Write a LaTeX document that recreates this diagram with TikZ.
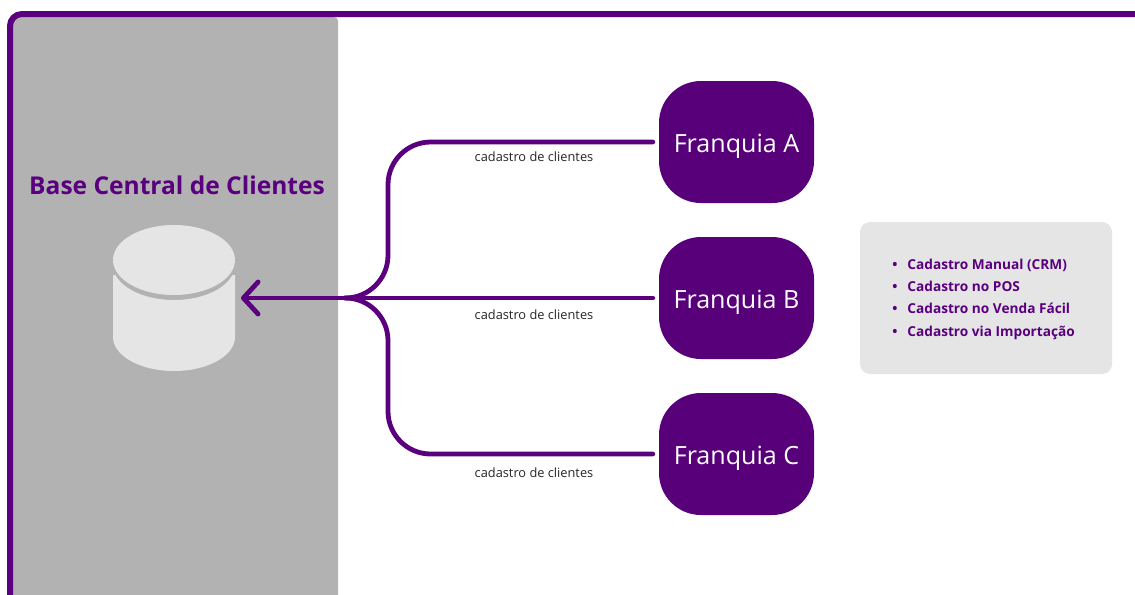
\documentclass[tikz,border=0pt]{standalone}
\usepackage{fontspec}
\setmainfont{Open Sans}
\usetikzlibrary{arrows.meta,calc}
\definecolor{roxo}{HTML}{5A007F}
\definecolor{roxob}{HTML}{58007A}
\definecolor{cinza}{HTML}{B2B2B2}
\definecolor{claro}{HTML}{E5E5E5}
\tikzset{
  x=0.75pt,y=-0.75pt,
  franquia/.style={fill=roxob,rounded corners=31.5pt,minimum width=116.25pt,minimum height=91.5pt,inner sep=0pt,text=white,text height=17pt,text depth=2pt,font=\fontsize{18.8pt}{22pt}\selectfont},
  conn/.style={draw=roxo,line width=3.6pt,line cap=round,line join=round},
  rotulo/.style={font=\fontsize{9.6pt}{11pt}\selectfont,text=black!85,inner sep=0pt},
}
\begin{document}
\begin{tikzpicture}
\useasboundingbox (0,0) rectangle (1135,594);
\fill[white] (0,0) rectangle (1135,594);
% moldura
\clip (0,0) rectangle (1135,594);
\fill[cinza,rounded corners=3pt] (13,17) rectangle (338,620);
\draw[roxo,line width=4.5pt,rounded corners=9pt] (1160,14) -- (10,14) -- (10,640);
% cilindro
\fill[claro] (113,275) -- (115.5,275) arc[x radius=61,y radius=35,start angle=163.4,end angle=16.6] -- (235,275) -- (235,337) arc[x radius=61,y radius=34,start angle=0,end angle=180] -- cycle;
\fill[claro] (174,260) ellipse[x radius=61,y radius=35];
\coordinate (base) at (241,298);
\node[text=roxo,font=\fontsize{18.4pt}{22pt}\selectfont\bfseries,inner sep=0pt] (titulo) at (177,185) {Base Central de Clientes};
% franquias
\node[franquia] (fa) at (736.5,142) {Franquia A};
\node[franquia] (fb) at (736.5,298) {Franquia B};
\node[franquia] (fc) at (736.5,454) {Franquia C};
% conectores
\coordinate (hub) at (345,298);
\coordinate (va) at (388,142);
\coordinate (vc) at (388,454);
\coordinate (vm) at (388,298);
\draw[conn,rounded corners=32pt,shorten <=4.5pt] (fa.west) -- (va) -- (vm) -- (hub);
\draw[conn,rounded corners=32pt,shorten <=4.5pt] (fc.west) -- (vc) -- (vm) -- (hub);
\draw[conn,shorten <=4.5pt,-{Straight Barb[length=11pt,width=24pt,line width=3.6pt,round]}] (fb.west) -- (base);
\node[rotulo] (la) at (534,157) {cadastro de clientes};
\node[rotulo] (lb) at (534,314.7) {cadastro de clientes};
\node[rotulo] (lc) at (534,472.7) {cadastro de clientes};
% lista
\node[fill=claro,rounded corners=7.5pt,minimum width=189pt,minimum height=114pt,inner sep=0pt] (caixa) at (986,298) {};
\node[anchor=west,inner sep=0pt,align=left,text=roxo,font=\fontsize{10.25pt}{16.7pt}\selectfont\bfseries] (lista) at (892,299.3) {•\hspace{7.5pt}Cadastro Manual (CRM)\\•\hspace{7.5pt}Cadastro no POS\\•\hspace{7.5pt}Cadastro no Venda Fácil\\•\hspace{7.5pt}Cadastro via Importação};
\end{tikzpicture}
\end{document}
